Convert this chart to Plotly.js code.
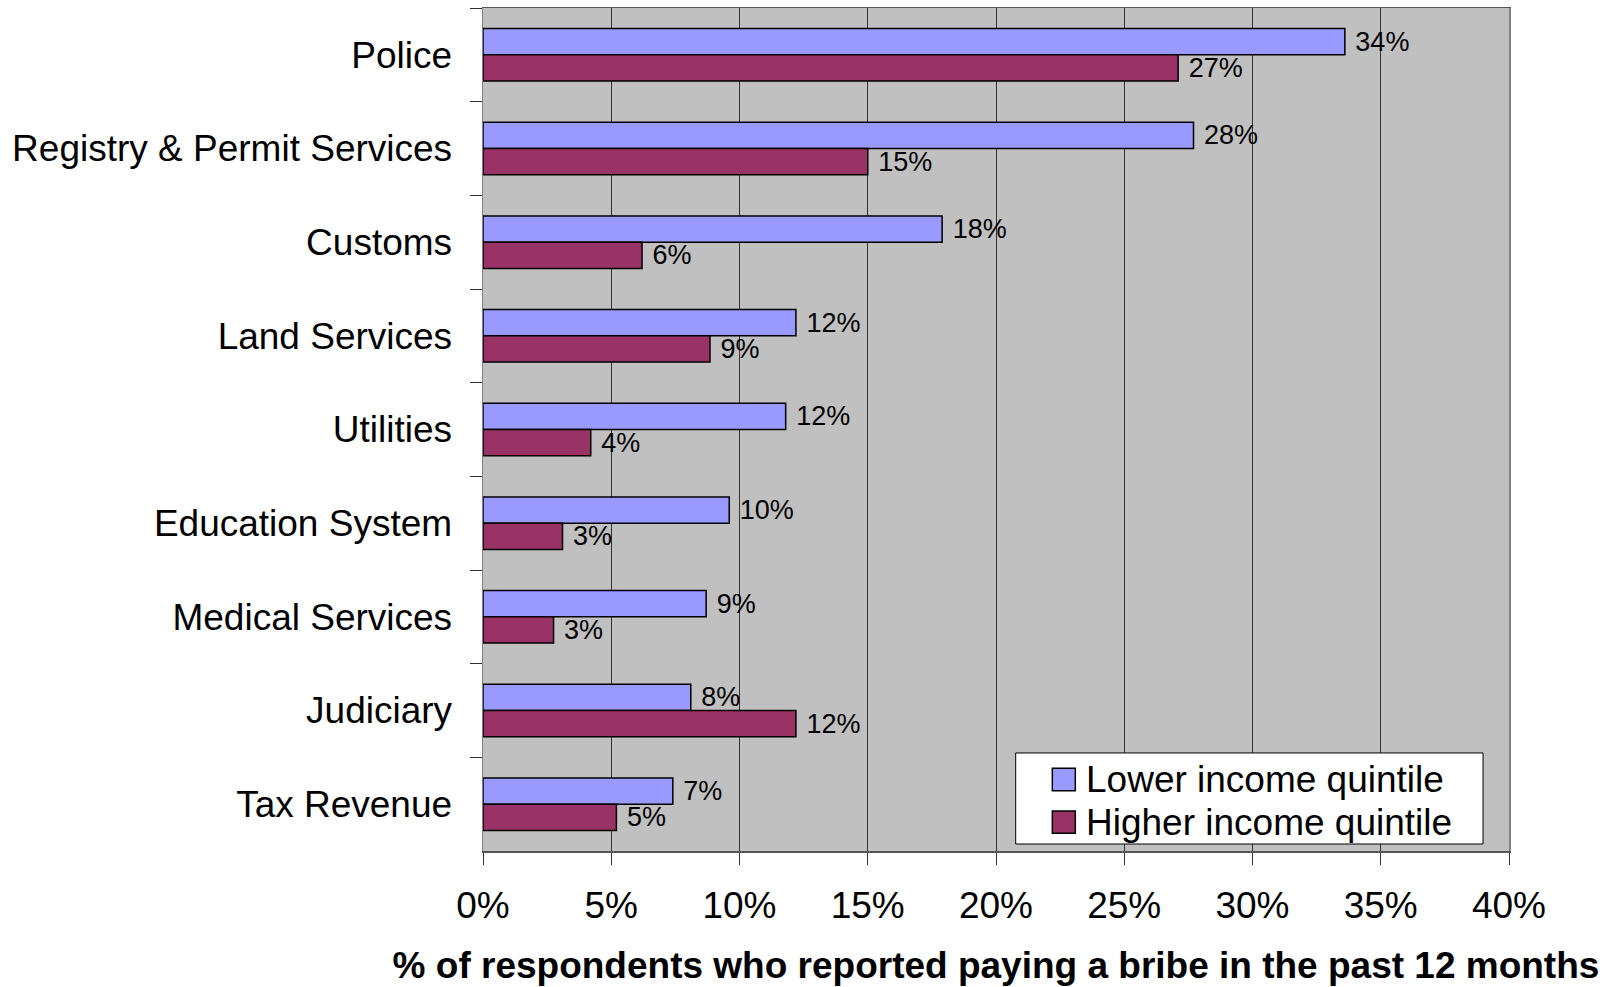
<!DOCTYPE html>
<html>
<head>
<meta charset="utf-8">
<script src="https://cdn.plot.ly/plotly-3.0.1.min.js"></script>
<style>html,body{margin:0;padding:0;background:#fff;}#chart{width:1610px;height:987px;}</style>
</head>
<body>
<div id="chart"></div>
<script>
const categories = ["Police", "Registry & Permit Services", "Customs", "Land Services", "Utilities", "Education System", "Medical Services", "Judiciary", "Tax Revenue"];
const lowerIncome = [33.6, 27.7, 17.9, 12.2, 11.8, 9.6, 8.7, 8.1, 7.4];
const higherIncome = [27.1, 15.0, 6.2, 8.85, 4.2, 3.1, 2.75, 12.2, 5.2];
const seriesNames = ["Lower income quintile", "Higher income quintile"];
const seriesColors = ["#9999FF", "#993366"];
const xTickVals = [0, 5, 10, 15, 20, 25, 30, 35, 40];
const xTickText = ["0%", "5%", "10%", "15%", "20%", "25%", "30%", "35%", "40%"];
const xTitle = "% of respondents who reported paying a bribe in the past 12 months";

const FONT = "Arial, 'Liberation Sans', sans-serif";

function barTrace(values, name, color) {
  return {
    type: "bar",
    orientation: "h",
    x: values,
    y: categories,
    name: name,
    marker: {color: color, line: {color: "#000", width: 1.5}},
    texttemplate: "\u00a0%{x:.0f}%",
    textposition: "outside",
    constraintext: "none",
    cliponaxis: false,
    textfont: {family: FONT, size: 27, color: "#000"},
    hoverinfo: "x+y+name",
    showlegend: false
  };
}

const data = [
  barTrace(lowerIncome, seriesNames[0], seriesColors[0]),
  barTrace(higherIncome, seriesNames[1], seriesColors[1])
];

// Legend drawn as a boxed key in paper coordinates (bottom-right of plot)
const legendBox = {x0: 0.5192, x1: 0.9747, y0: 0.0083, y1: 0.1163};
const keyX = [0.5549, 0.5773];
const keyY = [[0.0715, 0.0981], [0.0210, 0.0474]];
const keyTextX = 0.5858;
const keyTextY = [0.0848, 0.0344];

const shapes = [
  {type: "rect", xref: "paper", yref: "paper", x0: legendBox.x0, x1: legendBox.x1, y0: legendBox.y0, y1: legendBox.y1,
   fillcolor: "#ffffff", line: {color: "#000", width: 1}, layer: "above"}
];
const annotations = [];
seriesNames.forEach(function(name, i) {
  shapes.push({type: "rect", xref: "paper", yref: "paper", x0: keyX[0], x1: keyX[1], y0: keyY[i][0], y1: keyY[i][1],
    fillcolor: seriesColors[i], line: {color: "#000", width: 1.5}, layer: "above"});
  annotations.push({xref: "paper", yref: "paper", x: keyTextX, y: keyTextY[i], xanchor: "left", yanchor: "middle",
    text: name, showarrow: false, font: {family: FONT, size: 37, color: "#000"}});
});

const layout = {
  width: 1610,
  height: 987,
  margin: {l: 483, r: 101, t: 8, b: 136},
  paper_bgcolor: "#ffffff",
  plot_bgcolor: "#C0C0C0",
  barmode: "group",
  bargap: 0.44,
  bargroupgap: 0,
  font: {family: FONT, color: "#000"},
  xaxis: {
    range: [0, 40],
    tickvals: xTickVals,
    ticktext: xTickText,
    showgrid: true,
    gridcolor: "#333333",
    gridwidth: 1,
    zeroline: false,
    showline: true,
    linecolor: "#555555",
    linewidth: 1.5,
    mirror: true,
    ticks: "outside",
    ticklen: 12,
    tickcolor: "#333333",
    tickwidth: 1,
    ticklabelstandoff: 9,
    tickfont: {family: FONT, size: 37, color: "#000"},
    title: {text: xTitle, font: {family: FONT, size: 37, color: "#000", weight: "bold"}, standoff: 27},
    automargin: false,
    fixedrange: true
  },
  yaxis: {
    autorange: "reversed",
    type: "category",
    tickson: "boundaries",
    showgrid: false,
    showline: true,
    linecolor: "#808080",
    linewidth: 1.5,
    mirror: true,
    ticks: "outside",
    ticklen: 12,
    tickcolor: "#333333",
    tickwidth: 1,
    ticklabelstandoff: 22,
    tickfont: {family: FONT, size: 37, color: "#000"},
    automargin: false,
    fixedrange: true
  },
  showlegend: false,
  shapes: shapes,
  annotations: annotations
};

Plotly.newPlot("chart", data, layout, {displayModeBar: false, staticPlot: true});
</script>
</body>
</html>
